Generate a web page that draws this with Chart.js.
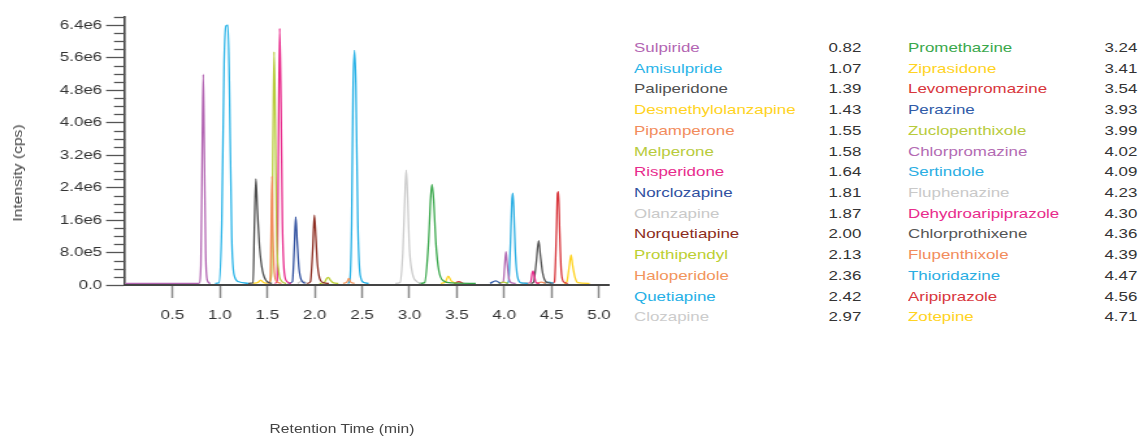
<!DOCTYPE html>
<html>
<head>
<meta charset="utf-8">
<script src="https://cdn.jsdelivr.net/npm/chart.js@4.4.0/dist/chart.umd.min.js"></script>
<style>
    body { margin: 0; background: #fff; font-family: "Liberation Sans", Arial, Helvetica, sans-serif; }
    #wrap { position: relative; width: 1140px; height: 437px; overflow: hidden; }
    #chart { position: absolute; left: 0; top: 0; }
    .txt { position: absolute; white-space: nowrap; font-size: 13px; line-height: 16px; }
    .name { transform: scaleX(1.3); transform-origin: left center; }
    .val { color: #333; transform: scaleX(1.3); transform-origin: right center; text-align: right; }
    #ytitle { position: absolute; left: 18px; top: 173px; font-size: 12px; color: #444; white-space: nowrap;
        transform: translate(-50%, -50%) rotate(-90deg) scaleX(1.3); }
    #xtitle { position: absolute; left: 342px; top: 429px; font-size: 12px; color: #444; white-space: nowrap;
        transform: translate(-50%, -50%) scaleX(1.3); }
</style>
</head>
<body>
<div id="wrap">
    <canvas id="chart" width="480" height="437" style="width:624px;height:437px"></canvas>
    <div id="ytitle">Intensity (cps)</div>
    <div id="xtitle">Retention Time (min)</div>
    <div id="legend"></div>
</div>
<script>
// compounds, retention times (min) and legend colours
const names = ['Sulpiride', 'Amisulpride', 'Paliperidone', 'Desmethylolanzapine', 'Pipamperone', 'Melperone',
    'Risperidone', 'Norclozapine', 'Olanzapine', 'Norquetiapine', 'Prothipendyl', 'Haloperidole', 'Quetiapine',
    'Clozapine', 'Promethazine', 'Ziprasidone', 'Levomepromazine', 'Perazine', 'Zuclopenthixole', 'Chlorpromazine',
    'Sertindole', 'Fluphenazine', 'Dehydroaripiprazole', 'Chlorprothixene', 'Flupenthixole', 'Thioridazine',
    'Aripiprazole', 'Zotepine'];
const retTimes = ['0.82', '1.07', '1.39', '1.43', '1.55', '1.58', '1.64', '1.81', '1.87', '2.00', '2.13', '2.36', '2.42',
    '2.97', '3.24', '3.41', '3.54', '3.93', '3.99', '4.02', '4.09', '4.23', '4.30', '4.36', '4.39', '4.47', '4.56', '4.71'];
const colors = ['#b366b3', '#2ab4e8', '#4f4f4f', '#ffd322', '#f28c5c', '#b8cb3c', '#e82b8c', '#30509f', '#c9c9c9',
    '#8c2c20', '#bccf32', '#f2955c', '#25b0e6', '#cccccc', '#3aa84c', '#ffd322', '#d8353b', '#305ba8', '#b8cb3c',
    '#b36bb3', '#2aaee3', '#c9c9c9', '#e82b8c', '#555555', '#f28c5c', '#2aaee3', '#d8353b', '#ffd322'];

// traces: [time (min), intensity (1e6 cps)]
const traces = [
    [[0, 0.04], [0.78, 0.04], [0.80, 0.5], [0.815, 3.6], [0.825, 5.19], [0.835, 3.5], [0.85, 0.8], [0.87, 0.1], [0.9, 0.04]],
    [[0.95, 0.04], [0.99, 0.05], [1.02, 1.5], [1.045, 5.5], [1.065, 6.38], [1.085, 6.4], [1.10, 5.0], [1.125, 1.2], [1.15, 0.25], [1.2, 0.08], [1.3, 0.04]],
    [[1.3, 0.04], [1.35, 0.05], [1.365, 1.5], [1.38, 2.61], [1.395, 1.9], [1.42, 0.9], [1.45, 0.35], [1.5, 0.08], [1.55, 0.04]],
    [[1.35, 0.04], [1.40, 0.06], [1.43, 0.12], [1.46, 0.06], [1.5, 0.04]],
    [[1.5, 0.04], [1.53, 0.1], [1.54, 1.2], [1.55, 2.68], [1.56, 1.3], [1.575, 0.3], [1.6, 0.08], [1.65, 0.04]],
    [[1.52, 0.04], [1.545, 0.3], [1.56, 3.5], [1.572, 5.74], [1.585, 4.0], [1.6, 1.2], [1.62, 0.35], [1.65, 0.1], [1.7, 0.04]],
    [[1.58, 0.04], [1.605, 0.1], [1.618, 3.5], [1.631, 6.32], [1.645, 4.5], [1.66, 1.5], [1.68, 0.3], [1.71, 0.08], [1.75, 0.04]],
    [[1.72, 0.04], [1.765, 0.08], [1.785, 0.9], [1.80, 1.68], [1.815, 1.1], [1.835, 0.4], [1.86, 0.12], [1.9, 0.04]],
    [[1.82, 0.04], [1.87, 0.1], [1.92, 0.04]],
    [[1.92, 0.04], [1.955, 0.08], [1.98, 0.9], [1.997, 1.72], [2.012, 1.2], [2.03, 0.5], [2.06, 0.12], [2.1, 0.05], [2.15, 0.04]],
    [[2.05, 0.04], [2.1, 0.06], [2.13, 0.17], [2.145, 0.19], [2.165, 0.12], [2.2, 0.05], [2.25, 0.04]],
    [[2.3, 0.04], [2.34, 0.07], [2.36, 0.16], [2.38, 0.07], [2.42, 0.04]],
    [[2.35, 0.04], [2.37, 0.1], [2.39, 1.5], [2.405, 4.8], [2.42, 5.78], [2.435, 4.9], [2.455, 1.6], [2.48, 0.25], [2.52, 0.06], [2.57, 0.04]],
    [[2.85, 0.04], [2.9, 0.06], [2.93, 0.8], [2.955, 2.4], [2.966, 2.83], [2.98, 2.2], [3.0, 0.9], [3.03, 0.3], [3.08, 0.08], [3.12, 0.04]],
    [[3.1, 0.04], [3.16, 0.06], [3.2, 1.0], [3.225, 2.2], [3.238, 2.48], [3.255, 2.1], [3.28, 1.0], [3.31, 0.35], [3.36, 0.1], [3.45, 0.05], [3.7, 0.04]],
    [[3.33, 0.04], [3.38, 0.08], [3.41, 0.22], [3.44, 0.1], [3.5, 0.04]],
    [[3.47, 0.04], [3.52, 0.08], [3.57, 0.04]],
    [[3.85, 0.04], [3.91, 0.1], [3.96, 0.04]],
    [[3.94, 0.04], [3.99, 0.07], [4.04, 0.04]],
    [[3.95, 0.04], [3.99, 0.08], [4.005, 0.5], [4.018, 0.82], [4.03, 0.55], [4.05, 0.15], [4.08, 0.05], [4.12, 0.04]],
    [[4.02, 0.04], [4.045, 0.08], [4.065, 1.0], [4.08, 2.05], [4.09, 2.26], [4.1, 1.9], [4.115, 0.9], [4.14, 0.2], [4.18, 0.05], [4.25, 0.04]],
    [[4.18, 0.04], [4.23, 0.06], [4.28, 0.04]],
    [[4.25, 0.04], [4.28, 0.08], [4.295, 0.3], [4.304, 0.35], [4.315, 0.25], [4.335, 0.06], [4.37, 0.04]],
    [[4.28, 0.04], [4.31, 0.07], [4.335, 0.5], [4.363, 1.09], [4.38, 0.75], [4.405, 0.3], [4.44, 0.08], [4.5, 0.04]],
    [[4.34, 0.04], [4.39, 0.07], [4.44, 0.04]],
    [[4.42, 0.04], [4.47, 0.07], [4.52, 0.04]],
    [[4.5, 0.04], [4.53, 0.08], [4.55, 1.3], [4.562, 2.25], [4.572, 2.3], [4.585, 1.3], [4.6, 0.4], [4.625, 0.08], [4.67, 0.04]],
    [[4.63, 0.04], [4.66, 0.08], [4.685, 0.45], [4.705, 0.74], [4.72, 0.5], [4.745, 0.2], [4.775, 0.06], [4.9, 0.04]]
];

const xTickLabels = ['0.5', '1.0', '1.5', '2.0', '2.5', '3.0', '3.5', '4.0', '4.5', '5.0'];
const yTickLabels = ['0.0', '8.0e5', '1.6e6', '2.4e6', '3.2e6', '4.0e6', '4.8e6', '5.6e6', '6.4e6'];

window.addEventListener('load', onLoad);

function onLoad() {
    Chart.defaults.font.family = '"Liberation Sans", Arial, Helvetica, sans-serif';
    Chart.defaults.font.size = 13;
    Chart.defaults.color = '#333';

    // short minor ticks between the labelled ones on the intensity axis
    const minorTicks = {
        id: 'minorTicks',
        afterDraw(chart) {
            const y = chart.scales.y;
            const left = chart.chartArea.left;
            const c = chart.ctx;
            c.save();
            c.strokeStyle = '#555';
            c.lineWidth = 1.3;
            for (let k = 0; k <= 33; k++) {
                if (k % 4 === 0) continue;
                const py = Math.round(y.getPixelForValue(k * 0.2)) + 0.5;
                c.beginPath();
                c.moveTo(left - 8.5, py);
                c.lineTo(left, py);
                c.stroke();
            }
            c.restore();
        }
    };

    const datasets = traces.map((pts, i) => ({
        label: names[i],
        data: pts,
        borderColor: colors[i],
        borderWidth: 1.3,
        pointRadius: 0,
        cubicInterpolationMode: 'monotone',
        fill: false
    }));

    const ctx = document.getElementById('chart').getContext('2d');
    const chromChart = new Chart(ctx, {
        type: 'line',
        data: { datasets: datasets },
        options: {
            responsive: false,
            devicePixelRatio: 1,
            animation: false,
            layout: { padding: { left: 0, right: 8.5, top: 17, bottom: 0 } },
            plugins: { legend: { display: false }, tooltip: { enabled: false } },
            scales: {
                x: {
                    type: 'linear',
                    min: 0,
                    max: 5.1,
                    afterFit(scale) { scale.height = 152; },
                    afterBuildTicks(scale) { scale.ticks = scale.ticks.filter(t => t.value > 0.01); },
                    ticks: {
                        stepSize: 0.5,
                        includeBounds: false,
                        maxRotation: 0,
                        autoSkip: false,
                        padding: 10,
                        callback: (v, i) => xTickLabels[i]
                    },
                    grid: { drawOnChartArea: false, tickLength: 13, tickColor: '#888', tickWidth: 1.5 },
                    border: { display: true, color: '#444', width: 2 }
                },
                y: {
                    min: 0,
                    max: 6.6,
                    afterFit(scale) { scale.width = 96.2; },
                    ticks: {
                        stepSize: 0.8,
                        includeBounds: false,
                        padding: 3,
                        callback: (v, i) => yTickLabels[i]
                    },
                    grid: { drawOnChartArea: false, tickLength: 14.6, tickColor: '#555', tickWidth: 1.3 },
                    border: { display: true, color: '#444', width: 1.6 }
                }
            }
        },
        plugins: [minorTicks]
    });

    // two-column legend with retention times
    const legend = document.getElementById('legend');
    const half = Math.ceil(names.length / 2);
    names.forEach((n, i) => {
        const col = i < half ? 0 : 1;
        const row = i % half;
        const top = 48 + 20.72 * row - 8;
        const nm = document.createElement('div');
        nm.className = 'txt name';
        nm.style.left = (col ? 908 : 634) + 'px';
        nm.style.top = top + 'px';
        nm.style.color = colors[i];
        nm.textContent = n;
        legend.appendChild(nm);
        const vl = document.createElement('div');
        vl.className = 'txt val';
        vl.style.right = (1140 - (col ? 1137 : 861)) + 'px';
        vl.style.top = top + 'px';
        vl.textContent = retTimes[i];
        legend.appendChild(vl);
    });
}
</script>
</body>
</html>
